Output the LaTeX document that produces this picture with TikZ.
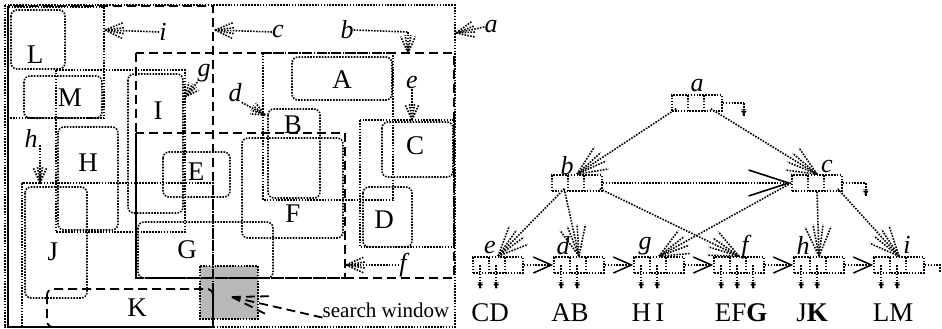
\documentclass[tikz,border=0pt]{standalone}
\usepackage{fontspec}
\setmainfont{Liberation Serif}
\usetikzlibrary{calc,arrows.meta}

\tikzset{
  dots/.style={line width=1.6pt, dash pattern=on 1.6pt off 1.3pt},
  dashes/.style={line width=1.8pt, dash pattern=on 9pt off 5pt},
  rbox/.style={dots, rounded corners=6pt},
  mbr/.style={font=\fontsize{27}{27}\selectfont, inner sep=0pt},
  tag/.style={font=\fontsize{26}{26}\selectfont\itshape, inner sep=0pt},
  entry/.style={draw, dots, minimum width=50pt, minimum height=16pt, inner sep=0pt,
    path picture={\foreach \s in {16,32}
      \draw[dots] ([xshift=\s pt]path picture bounding box.north west)
        -- ([xshift=\s pt]path picture bounding box.south west);}},
  nxt/.style={dots, -{Straight Barb[length=18pt,width=16pt,line width=1.5pt]}},
}

% pointer with a fan of barbs: [style]{barb length}{from}{tip}
\newcommand\fan[4][dots]{%
  \draw[#1] (#3) -- (#4);
  \foreach \ang in {-24,-9,9,24}
    \draw[#1] (#4) -- ($(#4)!#2!\ang:(#3)$);
}

\begin{document}
\begin{tikzpicture}[x=1pt, y=-1pt]
  \useasboundingbox (0,0) rectangle (942,329);

  % search window
  \fill[black!28] (200,266) rectangle (258,319);
  \draw[dots] (200,266) rectangle (258,319);

  % data rectangles
  \draw[rbox] (11,10) rectangle (65,69);     % L
  \draw[rbox] (24,76) rectangle (102,118);   % M
  \draw[rbox] (58,127) rectangle (118,230);  % H
  \draw[rbox] (128,74) rectangle (183,213);  % I
  \draw[rbox] (25,187) rectangle (87,298);   % J
  \draw[rbox] (138,222) rectangle (273,278); % G
  \draw[rbox] (163,152) rectangle (230,197); % E
  \draw[rbox] (242,138) rectangle (343,238); % F
  \draw[rbox] (292,57) rectangle (392,100);  % A
  \draw[rbox] (268,109) rectangle (320,198); % B
  \draw[rbox] (382,122) rectangle (453,177); % C
  \draw[rbox] (363,187) rectangle (412,247); % D
  \draw[dashes, rounded corners=6pt] (47,289) rectangle (213,327); % K

  % leaf-level bounding boxes
  \draw[dots] (8,7) rectangle (104,118);     % i
  \draw[dots] (56,70) rectangle (185,232);   % g
  \draw[dots] (22,183) rectangle (213,327);  % h
  \draw[dots] (263,53) rectangle (393,200);  % d
  \draw[dots] (360,120) rectangle (454,247); % e

  % upper boxes
  \draw[dots] (5,5) rectangle (455,327);     % a
  \draw[dashes] (8,6) rectangle (213,327);   % c
  \draw[dashes] (136,53) rectangle (454,278); % b
  \draw[dashes] (136,133) rectangle (345,278); % f
  \draw[line width=2pt] (8,6) -- (8,327) -- (213,327) -- (213,289);
  \draw[line width=2pt] (136,133) -- (136,278);

  % object names
  \node[mbr] (L) at (35,55) {L};
  \node[mbr] (M) at (70,98) {M};
  \node[mbr] (I) at (158,111) {I};
  \node[mbr] (H) at (88,163) {H};
  \node[mbr] (E) at (196,172) {E};
  \node[mbr] (A) at (342,80) {A};
  \node[mbr] (B) at (293,125) {B};
  \node[mbr] (C) at (415,146) {C};
  \node[mbr] (D) at (384,220) {D};
  \node[mbr] (F) at (293,214) {F};
  \node[mbr] (G) at (187,250) {G};
  \node[mbr] (J) at (53,252) {J};
  \node[mbr] (K) at (137,308) {K};

  % box labels with their pointers
  \node[tag] (la) at (491,27) {a};
  \node[tag] (lb) at (347,30) {b};
  \node[tag] (lc) at (278,32) {c};
  \node[tag] (li) at (163,32) {i};
  \node[tag] (lg) at (204,73) {g};
  \node[tag] (ld) at (235,93) {d};
  \node[tag] (le) at (412,83) {e};
  \node[tag] (lf) at (403,265) {f};
  \node[tag] (lh) at (31,138) {h};
  \coordinate (ra) at (456,33);
  \coordinate (rb0) at (408,32);
  \coordinate (rb) at (408,53);
  \coordinate (rc) at (215,30);
  \coordinate (ri) at (105,30);
  \coordinate (rg) at (185,97);
  \coordinate (rd) at (265,115);
  \coordinate (re) at (412,120);
  \coordinate (rf) at (346,265);
  \coordinate (rh0) at (40,145);
  \coordinate (rh) at (40,183);
  \fan{20pt}{la.west}{ra}
  \draw[dots] (lb.east) -- (rb0);
  \fan{18pt}{rb0}{rb}
  \fan{20pt}{lc.west}{rc}
  \fan{20pt}{li.west}{ri}
  \fan{15pt}{lg.south west}{rg}
  \fan{15pt}{ld.south east}{rd}
  \fan{16pt}{le.south}{re}
  \fan{20pt}{lf.west}{rf}
  \fan{16pt}{rh0}{rh}

  % query
  \node[font=\fontsize{21}{21}\selectfont, inner sep=0pt] (sw) at (386,310) {search window};
  \coordinate (swt) at (232,297);
  \draw[dashes] (sw.south west) -- (swt);
  \foreach \ang in {-14,14}
    \draw[dashes] (swt) -- ($(swt)!38pt!\ang:(sw.south west)$);

  % tree nodes
  \node[entry] (ta) at (697,103) {};
  \node[entry] (tb) at (577,183) {};
  \node[entry] (tc) at (817,183) {};
  \foreach \n/\x in {te/498,td/579,tg/659,tf/739,th/819,ti/899}
    \node[entry] (\n) at (\x,265) {};
  \node[tag] (na) at (697,86) {a};
  \node[tag] (nb) at (567,166) {b};
  \node[tag] (nc) at (827,167) {c};
  \node[tag] (ne) at (490,247) {e};
  \node[tag] (nd) at (563,246) {d};
  \node[tag] (ng) at (645,246) {g};
  \node[tag] (nf) at (745,247) {f};
  \node[tag] (nh) at (803,245) {h};
  \node[tag] (ni) at (907,245) {i};

  % child pointers
  \path (ta.south west) ++(5,-3) coordinate (pa1);
  \path (ta.south east) ++(-12,-3) coordinate (pa2);
  \path (tb.south west) ++(13,-3) coordinate (pb1);
  \path (tb.south east) ++(-3,-3) coordinate (pb2);
  \path (tc.south east) ++(-5,-3) coordinate (pc3);
  \fan{32pt}{pa1}{tb.north}
  \fan{32pt}{pa2}{tc.north}
  \fan{32pt}{pb1}{te.north}
  \fan{32pt}{pb1}{td.north}
  \fan{32pt}{pb2}{tf.north}
  \fan{32pt}{tc.west}{tg.north}
  \fan{32pt}{tc.south}{th.north}
  \fan{32pt}{pc3}{ti.north}

  % sibling links
  \draw[dots, -{Straight Barb[length=40pt,width=26pt,line width=1.6pt]}] (tb) -- (tc);
  \foreach \p/\q in {te/td,td/tg,tg/tf,tf/th,th/ti}
    \draw[nxt] (\p) -- (\q);
  \draw[dots] (ta.east) -- ++(21,0) coordinate (ta0);
  \path (ta0) ++(0,12) coordinate (ta1);
  \fan{6pt}{ta0}{ta1}
  \draw[dots] (tc.east) -- ++(23,0) coordinate (tc0);
  \path (tc0) ++(0,12) coordinate (tc1);
  \fan{6pt}{tc0}{tc1}
  \draw[dots] (ti.east) -- (940,265) -- (940,272);

  % object pointers
  \foreach \n/\k in {te/2,td/2,tg/2,tf/3,th/2,ti/2}
    \foreach \j in {1,...,\k} {
      \path (\n.west) ++(16*\j-8,0) coordinate (k0) ++(0,23) coordinate (k1);
      \fan{6pt}{k0}{k1}
    }
  \node[mbr] (sCD) at (490,313) {CD};
  \node[mbr] (sAB) at (570,313) {AB};
  \node[mbr] (sHI) at (648,313) {H\,I};
  \node[mbr] (sEFG) at (741,313) {EF\textbf{G}};
  \node[mbr] (sJK) at (812,313) {J\textbf{K}};
  \node[mbr] (sLM) at (893,313) {LM};
\end{tikzpicture}
\end{document}
